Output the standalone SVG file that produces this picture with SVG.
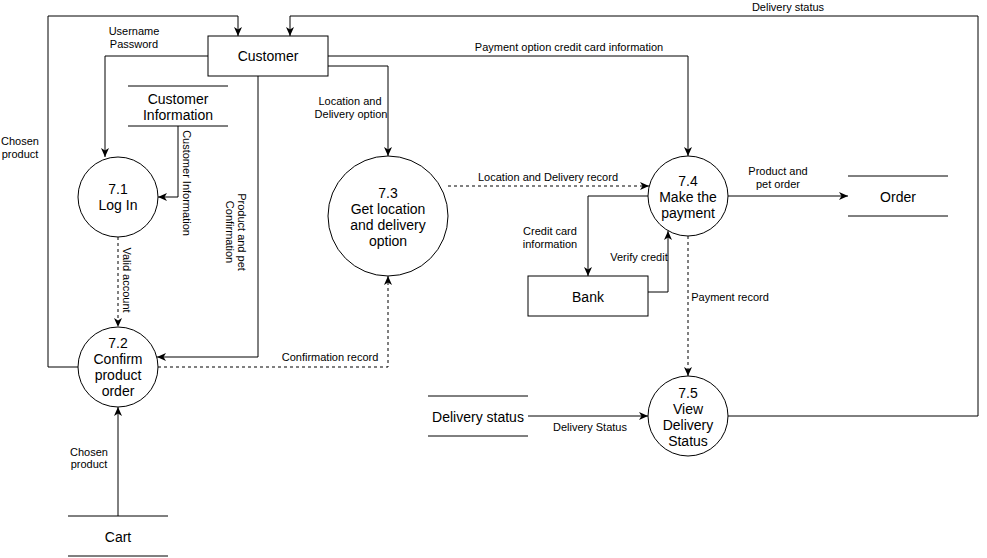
<svg xmlns="http://www.w3.org/2000/svg" width="987" height="558" viewBox="0 0 987 558">
<style>
.bg{fill:#fff}
.shape{fill:#fff;stroke:#000;stroke-width:1}
.store{stroke:#000;stroke-width:1;fill:none}
.edge{fill:none;stroke:#000;stroke-width:1}
.dash{stroke-dasharray:3 3}
.nt{font-family:"Liberation Sans",Arial,sans-serif;font-size:14px;fill:#000;text-anchor:middle;dominant-baseline:central}
.lt{font-family:"Liberation Sans",Arial,sans-serif;font-size:11px;fill:#000;text-anchor:middle;dominant-baseline:central}
</style>
<defs>
<marker id="arr" viewBox="0 0 10 10" refX="9" refY="5" markerWidth="10" markerHeight="10" markerUnits="userSpaceOnUse" orient="auto">
<path d="M0,1 L9,5 L0,9 L2.5,5 Z" fill="#000"/>
</marker>
</defs>
<rect class="bg" x="0" y="0" width="987" height="558"/>

<g id="connectors">
<path class="edge" d="M208,56 H105 V157" marker-end="url(#arr)"/>
<path class="edge" d="M178,126 V197 H158" marker-end="url(#arr)"/>
<path class="edge" d="M258,76 V357 H157" marker-end="url(#arr)"/>
<path class="edge" d="M78,367 H48 V16 H238 V36" marker-end="url(#arr)"/>
<path class="edge dash" d="M118,237 V327" marker-end="url(#arr)"/>
<path class="edge" d="M118,516 V407" marker-end="url(#arr)"/>
<path class="edge dash" d="M158,367 H388 V276" marker-end="url(#arr)"/>
<path class="edge" d="M328,66 H388 V156" marker-end="url(#arr)"/>
<path class="edge" d="M328,56 H688 V156" marker-end="url(#arr)"/>
<path class="edge dash" d="M448,186 H649" marker-end="url(#arr)"/>
<path class="edge" d="M648,196 H588 V276" marker-end="url(#arr)"/>
<path class="edge" d="M648,292 H668 V231" marker-end="url(#arr)"/>
<path class="edge dash" d="M688,236 V376" marker-end="url(#arr)"/>
<path class="edge" d="M728,196 H848" marker-end="url(#arr)"/>
<path class="edge" d="M528,416 H648" marker-end="url(#arr)"/>
<path class="edge" d="M728,416 H978 V16 H290 V36" marker-end="url(#arr)"/>

<text class="lt" x="134" y="31">Username</text>
<text class="lt" x="134" y="44">Password</text>
<text class="lt" x="20" y="141">Chosen</text>
<text class="lt" x="20" y="154">product</text>
<text class="lt" transform="translate(187,183) rotate(90)">Customer Information</text>
<text class="lt" transform="translate(242,232) rotate(90)">Product and pet</text>
<text class="lt" transform="translate(230,232) rotate(90)">Confirmation</text>
<text class="lt" transform="translate(127,280) rotate(90)">Valid account</text>
<text class="lt" x="330" y="357">Confirmation record</text>
<text class="lt" x="89" y="452">Chosen</text>
<text class="lt" x="89" y="464">product</text>
<text class="lt" x="350" y="101">Location and</text>
<text class="lt" x="351" y="114">Delivery option</text>
<text class="lt" x="569" y="47">Payment option credit card information</text>
<text class="lt" x="548" y="177">Location and Delivery record</text>
<text class="lt" x="550" y="231">Credit card</text>
<text class="lt" x="550" y="244">information</text>
<text class="lt" x="639" y="257">Verify credit</text>
<text class="lt" x="730" y="297">Payment record</text>
<text class="lt" x="778" y="171">Product and</text>
<text class="lt" x="778" y="184">pet order</text>
<text class="lt" x="590" y="427">Delivery Status</text>
<text class="lt" x="788" y="7">Delivery status</text>
</g>

<g id="customer">
<rect class="shape" x="208" y="36" width="120" height="40"/>
<text class="nt" x="268" y="56">Customer</text>
</g>

<g id="customer-information">
<line class="store" x1="128" y1="86" x2="228" y2="86"/>
<line class="store" x1="128" y1="126" x2="228" y2="126"/>
<text class="nt" x="178" y="99">Customer</text>
<text class="nt" x="178" y="115">Information</text>
</g>

<g id="p71">
<circle class="shape" cx="118" cy="197" r="40"/>
<text class="nt" x="118" y="189">7.1</text>
<text class="nt" x="118" y="205">Log In</text>
</g>

<g id="p72">
<circle class="shape" cx="118" cy="367" r="40"/>
<text class="nt" x="118" y="343">7.2</text>
<text class="nt" x="118" y="359">Confirm</text>
<text class="nt" x="118" y="375">product</text>
<text class="nt" x="118" y="391">order</text>
</g>

<g id="cart">
<line class="store" x1="68" y1="516" x2="168" y2="516"/>
<line class="store" x1="68" y1="556" x2="168" y2="556"/>
<text class="nt" x="118" y="537">Cart</text>
</g>

<g id="p73">
<circle class="shape" cx="388" cy="216" r="60"/>
<text class="nt" x="388" y="193">7.3</text>
<text class="nt" x="388" y="209">Get location</text>
<text class="nt" x="388" y="225">and delivery</text>
<text class="nt" x="388" y="241">option</text>
</g>

<g id="p74">
<circle class="shape" cx="688" cy="196" r="40"/>
<text class="nt" x="688" y="181">7.4</text>
<text class="nt" x="688" y="197">Make the</text>
<text class="nt" x="688" y="213">payment</text>
</g>

<g id="bank">
<rect class="shape" x="528" y="276" width="120" height="40"/>
<text class="nt" x="588" y="297">Bank</text>
</g>

<g id="order">
<line class="store" x1="848" y1="176" x2="948" y2="176"/>
<line class="store" x1="848" y1="216" x2="948" y2="216"/>
<text class="nt" x="898" y="197">Order</text>
</g>

<g id="delivery-status">
<line class="store" x1="428" y1="396" x2="528" y2="396"/>
<line class="store" x1="428" y1="436" x2="528" y2="436"/>
<text class="nt" x="478" y="417">Delivery status</text>
</g>

<g id="p75">
<circle class="shape" cx="688" cy="416" r="40"/>
<text class="nt" x="688" y="393">7.5</text>
<text class="nt" x="688" y="409">View</text>
<text class="nt" x="688" y="425">Delivery</text>
<text class="nt" x="688" y="441">Status</text>
</g>
</svg>
